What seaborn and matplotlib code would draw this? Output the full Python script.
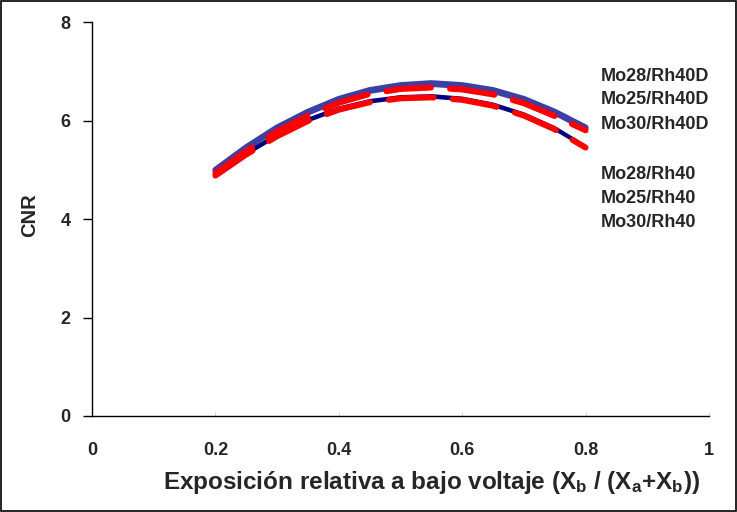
import matplotlib
matplotlib.use("Agg")
import matplotlib.pyplot as plt
import matplotlib.patches as mpatches
import seaborn as sns
import pandas as pd

# ---- data ----
x_vals = [0.20, 0.25, 0.30, 0.35, 0.40, 0.45, 0.50, 0.55, 0.60, 0.65, 0.70, 0.75, 0.80]
mo28_rh40d = [5.00, 5.46, 5.86, 6.18, 6.44, 6.62, 6.72, 6.76, 6.72, 6.62, 6.44, 6.18, 5.86]
mo25_rh40d = [4.93, 5.38, 5.78, 6.10, 6.36, 6.54, 6.64, 6.67, 6.63, 6.53, 6.35, 6.09, 5.80]
mo30_rh40d = [4.98, 5.44, 5.84, 6.16, 6.42, 6.60, 6.70, 6.74, 6.70, 6.60, 6.42, 6.16, 5.84]
mo28_rh40 = [4.90, 5.34, 5.71, 6.02, 6.25, 6.40, 6.48, 6.50, 6.45, 6.33, 6.13, 5.85, 5.47]
mo25_rh40 = [4.88, 5.31, 5.68, 5.99, 6.22, 6.37, 6.45, 6.47, 6.42, 6.30, 6.10, 5.82, 5.45]
mo30_rh40 = [4.89, 5.32, 5.69, 6.00, 6.23, 6.38, 6.46, 6.48, 6.43, 6.31, 6.11, 5.83, 5.46]

labels_d = ["Mo28/Rh40D", "Mo25/Rh40D", "Mo30/Rh40D"]
labels_n = ["Mo28/Rh40", "Mo25/Rh40", "Mo30/Rh40"]
label_y = [6.90, 6.42, 5.91, 4.90, 4.41, 3.93]

x_ticks = [0, 0.2, 0.4, 0.6, 0.8, 1]
x_ticklabels = ["0", "0.2", "0.4", "0.6", "0.8", "1"]
y_ticks = [0, 2, 4, 6, 8]

sns.set_style("white")
plt.rcParams["font.family"] = ["Liberation Sans", "DejaVu Sans"]
plt.rcParams["font.weight"] = "bold"
plt.rcParams["axes.labelweight"] = "bold"
plt.rcParams["mathtext.fontset"] = "custom"
plt.rcParams["mathtext.rm"] = "Liberation Sans:bold"
plt.rcParams["mathtext.it"] = "Liberation Sans:bold"
plt.rcParams["mathtext.bf"] = "Liberation Sans:bold"

fig = plt.figure(figsize=(7.37, 5.12), dpi=100)
ax = fig.add_axes([0.1248, 0.1875, 0.962 - 0.1248, 0.957 - 0.1875])

navy = "#000080"
blue = "#3C3FA3"
red = "#FF0000"

# hidden Mo30 curves (under the others)
sns.lineplot(x=x_vals, y=mo30_rh40, ax=ax, color=navy, lw=2.6, solid_capstyle="round")
sns.lineplot(x=x_vals, y=mo30_rh40d, ax=ax, color=blue, lw=4.2, solid_capstyle="round")
# visible curves
sns.lineplot(x=x_vals, y=mo28_rh40, ax=ax, color=navy, lw=2.6, solid_capstyle="round")
sns.lineplot(x=x_vals, y=mo28_rh40d, ax=ax, color=blue, lw=4.2, solid_capstyle="round")
sns.lineplot(x=x_vals, y=mo25_rh40, ax=ax, color=red, lw=4.3,
             linestyle=(0, (7.5, 3.2)), dash_capstyle="round")
sns.lineplot(x=x_vals, y=mo25_rh40d, ax=ax, color=red, lw=4.3,
             linestyle=(0, (7.5, 3.2)), dash_capstyle="round")

ax.set_xlim(0, 1)
ax.set_ylim(0, 8)
ax.set_xticks(x_ticks)
ax.set_xticklabels(x_ticklabels)
ax.set_yticks(y_ticks)

for s in ["top", "right"]:
    ax.spines[s].set_visible(False)
for s in ["left", "bottom"]:
    ax.spines[s].set_color("black")
    ax.spines[s].set_linewidth(1.0)

ax.tick_params(axis="y", direction="out", length=6.5, width=1, color="black",
               labelsize=13, pad=9, left=True)
ax.tick_params(axis="x", direction="in", length=3, width=0.6, color="#cccccc",
               labelsize=13, pad=19, bottom=True)
for lab in ax.get_xticklabels() + ax.get_yticklabels():
    lab.set_fontweight("bold")

ax.set_ylabel("CNR", fontsize=14.5, fontweight="bold")
ax.yaxis.set_label_coords(-0.086, 0.51)
ax.set_xlabel(r"Exposición relativa a bajo voltaje (X$_\mathregular{b}$ / (X$_\mathregular{a}$+X$_\mathregular{b}$))",
              fontsize=17.5, fontweight="bold")
ax.xaxis.set_label_coords(0.551, -0.135)

for lbl, yy in zip(labels_d + labels_n, label_y):
    ax.text(0.825, yy, lbl, fontsize=13, fontweight="bold", va="center", ha="left",
            clip_on=False)

fig.patches.append(mpatches.Rectangle((0.002, 0.002), 0.996, 0.996, transform=fig.transFigure,
                                      fill=False, edgecolor="black", linewidth=1.2))

fig.savefig("out.png", dpi=100, facecolor="white")
